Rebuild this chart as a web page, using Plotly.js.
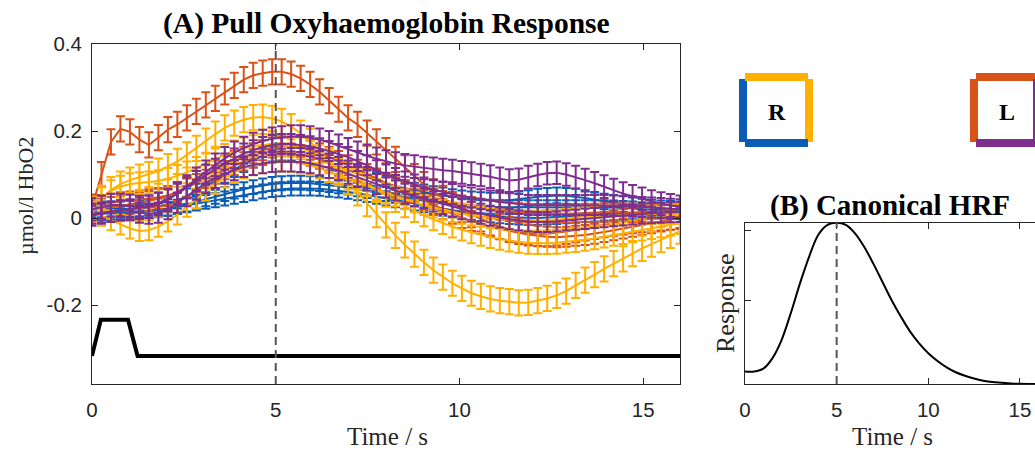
<!DOCTYPE html>
<html><head><meta charset="utf-8">
<script src="https://cdn.plot.ly/plotly-3.0.1.min.js"></script>
<style>html,body{margin:0;padding:0;background:#fff}#chart{width:1035px;height:452px}</style>
</head><body><div id="chart"></div><script>
// ---------- DATA ----------
const TIME = [0,0.258,0.516,0.774,1.032,1.290,1.548,1.806,2.065,2.323,2.581,2.839,3.097,3.355,3.613,3.871,4.129,4.387,4.645,4.903,5.161,5.419,5.677,5.935,6.194,6.452,6.710,6.968,7.226,7.484,7.742,8.000,8.258,8.516,8.774,9.032,9.290,9.548,9.806,10.065,10.323,10.581,10.839,11.097,11.355,11.613,11.871,12.129,12.387,12.645,12.903,13.161,13.419,13.677,13.935,14.194,14.452,14.710,14.968,15.226,15.484,15.742,16.000];

const blue1 = [0.02,0.02,0.02,0.02,0.021,0.022,0.024,0.027,0.031,0.04,0.05,0.061,0.073,0.086,0.099,0.112,0.124,0.134,0.142,0.148,0.15,0.15,0.147,0.142,0.135,0.127,0.119,0.11,0.102,0.094,0.086,0.079,0.073,0.068,0.063,0.059,0.055,0.052,0.048,0.045,0.043,0.041,0.04,0.04,0.041,0.043,0.046,0.049,0.051,0.052,0.051,0.049,0.046,0.042,0.038,0.035,0.032,0.029,0.026,0.024,0.022,0.021,0.02];
const blue2 = [0.01,0.01,0.01,0.01,0.011,0.013,0.015,0.018,0.021,0.026,0.031,0.037,0.043,0.049,0.055,0.061,0.066,0.071,0.075,0.078,0.08,0.081,0.081,0.08,0.078,0.076,0.073,0.07,0.066,0.062,0.058,0.055,0.051,0.047,0.043,0.04,0.037,0.035,0.032,0.03,0.028,0.027,0.026,0.025,0.025,0.025,0.025,0.025,0.025,0.025,0.025,0.025,0.025,0.025,0.025,0.024,0.023,0.022,0.02,0.019,0.018,0.016,0.015];
const blue3 = [0.015,0.014,0.013,0.013,0.014,0.015,0.017,0.019,0.021,0.025,0.029,0.033,0.037,0.041,0.045,0.049,0.053,0.057,0.061,0.064,0.066,0.068,0.068,0.068,0.067,0.065,0.063,0.06,0.057,0.053,0.049,0.045,0.041,0.037,0.033,0.029,0.025,0.021,0.018,0.015,0.012,0.009,0.006,0.004,0.002,0.001,0,0,0.001,0.002,0.004,0.005,0.007,0.008,0.01,0.011,0.012,0.013,0.014,0.015,0.015,0.015,0.015];

const orange1 = [0.025,0.1,0.175,0.205,0.198,0.18,0.168,0.185,0.203,0.215,0.23,0.245,0.26,0.275,0.29,0.305,0.318,0.328,0.333,0.336,0.336,0.331,0.321,0.307,0.29,0.27,0.25,0.23,0.215,0.195,0.175,0.155,0.135,0.115,0.095,0.077,0.06,0.045,0.031,0.019,0.008,-0.002,-0.011,-0.02,-0.026,-0.031,-0.034,-0.036,-0.036,-0.034,-0.031,-0.027,-0.023,-0.019,-0.015,-0.012,-0.009,-0.006,-0.004,-0.002,0,0.002,0.004];
const orange2 = [0.02,0.022,0.025,0.028,0.031,0.035,0.039,0.044,0.05,0.06,0.072,0.085,0.098,0.109,0.12,0.131,0.141,0.149,0.156,0.162,0.165,0.166,0.164,0.157,0.149,0.14,0.131,0.121,0.111,0.101,0.091,0.08,0.07,0.06,0.05,0.04,0.03,0.02,0.01,0,-0.007,-0.014,-0.02,-0.025,-0.03,-0.034,-0.038,-0.041,-0.043,-0.044,-0.043,-0.041,-0.039,-0.036,-0.032,-0.028,-0.024,-0.02,-0.016,-0.012,-0.008,-0.004,0];
const orange3 = [0.03,0.032,0.035,0.038,0.04,0.042,0.045,0.048,0.052,0.06,0.07,0.08,0.09,0.1,0.11,0.12,0.13,0.137,0.143,0.148,0.15,0.15,0.147,0.141,0.134,0.126,0.118,0.11,0.102,0.094,0.087,0.08,0.072,0.065,0.058,0.051,0.046,0.041,0.036,0.031,0.027,0.023,0.02,0.017,0.015,0.013,0.012,0.011,0.01,0.01,0.01,0.011,0.012,0.012,0.013,0.013,0.013,0.012,0.012,0.011,0.011,0.01,0.01];

const yellow1 = [0.02,0.045,0.065,0.078,0.087,0.094,0.1,0.108,0.118,0.13,0.145,0.16,0.177,0.193,0.207,0.218,0.226,0.231,0.232,0.229,0.222,0.21,0.195,0.176,0.155,0.132,0.108,0.083,0.058,0.033,0.008,-0.016,-0.04,-0.062,-0.083,-0.102,-0.12,-0.136,-0.15,-0.162,-0.173,-0.18,-0.186,-0.19,-0.192,-0.195,-0.194,-0.19,-0.185,-0.178,-0.168,-0.155,-0.143,-0.13,-0.117,-0.105,-0.094,-0.082,-0.07,-0.06,-0.05,-0.04,-0.03];
const yellow2 = [0.02,0.045,0.062,0.072,0.078,0.08,0.082,0.085,0.09,0.097,0.105,0.115,0.125,0.135,0.145,0.153,0.16,0.165,0.168,0.169,0.168,0.165,0.16,0.152,0.142,0.13,0.117,0.103,0.09,0.077,0.064,0.051,0.039,0.027,0.016,0.006,-0.003,-0.012,-0.02,-0.027,-0.033,-0.039,-0.044,-0.048,-0.052,-0.055,-0.057,-0.058,-0.058,-0.057,-0.055,-0.053,-0.05,-0.047,-0.043,-0.039,-0.035,-0.031,-0.027,-0.023,-0.019,-0.015,-0.012];
const yellow3 = [0.015,0.005,-0.005,-0.015,-0.024,-0.03,-0.028,-0.02,-0.008,0.008,0.026,0.045,0.063,0.079,0.093,0.105,0.114,0.121,0.126,0.129,0.13,0.129,0.126,0.121,0.114,0.106,0.098,0.089,0.081,0.073,0.065,0.057,0.05,0.043,0.036,0.03,0.024,0.019,0.014,0.01,0.006,0.003,0,-0.002,-0.004,-0.005,-0.006,-0.006,-0.005,-0.004,-0.002,0,0.002,0.004,0.005,0.006,0.007,0.008,0.009,0.01,0.01,0.01,0.01];

const purple1 = [0.02,0.025,0.03,0.03,0.028,0.025,0.026,0.032,0.042,0.056,0.072,0.09,0.106,0.122,0.137,0.15,0.161,0.17,0.177,0.182,0.185,0.187,0.187,0.185,0.18,0.174,0.166,0.158,0.15,0.143,0.136,0.13,0.125,0.121,0.118,0.115,0.113,0.11,0.108,0.105,0.102,0.099,0.095,0.09,0.086,0.088,0.094,0.099,0.103,0.104,0.1,0.094,0.087,0.08,0.072,0.064,0.056,0.05,0.044,0.038,0.033,0.029,0.026];
const purple2 = [0.005,0.01,0.015,0.018,0.018,0.012,0.01,0.012,0.02,0.035,0.05,0.065,0.08,0.092,0.102,0.11,0.117,0.122,0.126,0.129,0.13,0.13,0.129,0.126,0.121,0.115,0.109,0.102,0.094,0.086,0.078,0.07,0.063,0.056,0.05,0.044,0.038,0.032,0.026,0.02,0.015,0.01,0.005,0.001,-0.003,-0.006,-0.008,-0.009,-0.009,-0.008,-0.006,-0.004,-0.002,0,0.002,0.004,0.006,0.008,0.01,0.011,0.012,0.013,0.014];
const purple3 = [0.01,0.012,0.014,0.017,0.02,0.024,0.029,0.035,0.043,0.056,0.07,0.085,0.1,0.113,0.125,0.137,0.148,0.156,0.163,0.168,0.17,0.17,0.168,0.165,0.16,0.154,0.147,0.14,0.131,0.121,0.11,0.1,0.092,0.084,0.077,0.07,0.065,0.06,0.055,0.05,0.047,0.043,0.04,0.037,0.034,0.032,0.03,0.03,0.03,0.03,0.03,0.03,0.03,0.03,0.03,0.029,0.028,0.027,0.025,0.024,0.023,0.021,0.02];

// standard errors (one per channel)
const SERIES_NAMES = ['blue1','blue2','blue3','orange1','orange2','orange3','yellow1','yellow2','yellow3','purple1','purple2','purple3'];
const SERIES_VALUES = [blue1,blue2,blue3,orange1,orange2,orange3,yellow1,yellow2,yellow3,purple1,purple2,purple3];
const SERIES_ERR = [0.018,0.016,0.016,0.029,0.023,0.021,0.029,0.025,0.023,0.026,0.023,0.023];
const SERIES_GROUP = ['blue','blue','blue','orange','orange','orange','yellow','yellow','yellow','purple','purple','purple'];

// stimulus trace
const STIM_T = [0,0.24,0.98,1.24,16];
const STIM_V = [-0.317,-0.234,-0.234,-0.317,-0.317];

// canonical HRF
const HRF_T = [0,0.5,1,1.5,2,2.5,3,3.5,4,4.5,5,5.5,6,6.5,7,7.5,8,8.5,9,9.5,10,10.5,11,11.5,12,12.5,13,13.5,14,14.5,15,15.5,16];
const HRF_V = [0,0,0.004,0.019,0.045,0.083,0.125,0.163,0.194,0.208,0.211,0.208,0.196,0.177,0.153,0.127,0.101,0.078,0.057,0.04,0.026,0.015,0.006,-0.001,-0.006,-0.01,-0.013,-0.015,-0.016,-0.017,-0.0175,-0.0177,-0.0177];

const PEAK_T = 5;
const XTICKS = [0,5,10,15];
const YTICKS_A = [-0.2,0,0.2,0.4];
const YTICK_TEXT_A = ['-0.2','0','0.2','0.4'];
const YTICKS_B = [0.1,0.2];

// ---------- STYLE ----------
const COLORS = {blue:'#0a5cb4', orange:'#d95319', yellow:'#ffb000', purple:'#7e2f8e'};
const W = 1035, H = 452;
const px = x => x / W, py = y => 1 - y / H;
const AX = '#262626';
const serif = 'Liberation Serif, Times New Roman, serif';
const sans = 'Liberation Sans, Arial, sans-serif';

const traces = [];
SERIES_VALUES.forEach((vals, k) => {
  const c = COLORS[SERIES_GROUP[k]];
  traces.push({
    type:'scatter', mode:'lines', name:SERIES_NAMES[k], x:TIME, y:vals, xaxis:'x', yaxis:'y',
    line:{color:c, width:2},
    error_y:{type:'constant', value:SERIES_ERR[k], color:c, thickness:2, width:4.5, visible:true},
    hoverinfo:'skip'
  });
});
traces.push({type:'scatter', mode:'lines', x:STIM_T, y:STIM_V, xaxis:'x', yaxis:'y', line:{color:'#000', width:4}, hoverinfo:'skip'});
traces.push({type:'scatter', mode:'lines', x:HRF_T, y:HRF_V, xaxis:'x2', yaxis:'y2', line:{color:'#000', width:2, shape:'spline', smoothing:1}, hoverinfo:'skip'});

function axisBase(extra){
  return Object.assign({
    showgrid:false, zeroline:false, showline:true, linecolor:AX, linewidth:1,
    ticks:'inside', ticklen:6, tickwidth:1, tickcolor:AX, mirror:'allticks',
    tickfont:{family:sans, size:20.5, color:AX}, fixedrange:true
  }, extra);
}

const rect = (x0,x1,y0,y1,color) => ({type:'rect', xref:'paper', yref:'paper', x0:px(x0), x1:px(x1), y0:py(y1), y1:py(y0), fillcolor:color, line:{width:0}, layer:'above'});

const layout = {
  width:W, height:H, margin:{l:0,r:0,t:0,b:0}, paper_bgcolor:'#fff', plot_bgcolor:'#fff', showlegend:false,
  xaxis: axisBase({domain:[px(92),px(680)], range:[0,16], tickvals:XTICKS, anchor:'y', ticklabelstandoff:7}),
  yaxis: axisBase({domain:[py(384),py(44)], range:[-0.3816,0.4], tickvals:YTICKS_A, ticktext:YTICK_TEXT_A, anchor:'x', ticklabelstandoff:5}),
  xaxis2: axisBase({domain:[px(745),1], range:[0,15.82], tickvals:XTICKS, anchor:'y2', ticklabelstandoff:7}),
  yaxis2: axisBase({domain:[py(384),py(222.7)], range:[-0.0177,0.211], tickvals:YTICKS_B, showticklabels:false, anchor:'x2', mirror:false}),
  shapes:[
    {type:'line', xref:'x', yref:'y domain', x0:PEAK_T, x1:PEAK_T, y0:0, y1:1, line:{color:'#555', width:2, dash:'8px,5px'}, layer:'above'},
    {type:'line', xref:'x2', yref:'y2 domain', x0:PEAK_T, x1:PEAK_T, y0:0, y1:1, line:{color:'#555', width:2, dash:'8px,5px'}, layer:'above'},
    // R box
    rect(739,747,79,142,COLORS.blue), rect(745,808,73,81,COLORS.yellow), rect(805,813,79,142,COLORS.yellow), rect(745,808,139,147,COLORS.blue),
    // L box
    rect(970,978,79,142,COLORS.orange), rect(976,1039,73,81,COLORS.orange), rect(1033,1041,79,142,COLORS.purple), rect(976,1039,139,147,COLORS.purple)
  ],
  annotations:[
    {text:'<b>(A) Pull Oxyhaemoglobin Response</b>', xref:'paper', yref:'paper', x:px(386), y:py(24), xanchor:'center', yanchor:'middle', showarrow:false, font:{family:serif, size:29.5, color:'#000'}},
    {text:'<b>(B) Canonical HRF</b>', xref:'paper', yref:'paper', x:px(890), y:py(205), xanchor:'center', yanchor:'middle', showarrow:false, font:{family:serif, size:29, color:'#000'}},
    {text:'Time / s', xref:'paper', yref:'paper', x:px(387), y:0, xanchor:'center', yanchor:'bottom', showarrow:false, font:{family:serif, size:25, color:AX}},
    {text:'Time / s', xref:'paper', yref:'paper', x:px(892), y:0, xanchor:'center', yanchor:'bottom', showarrow:false, font:{family:serif, size:25, color:AX}},
    {text:'µmol/l HbO2', xref:'paper', yref:'paper', x:px(25), y:py(196), xanchor:'center', yanchor:'middle', textangle:-90, showarrow:false, font:{family:serif, size:22, color:AX}},
    {text:'Response', xref:'paper', yref:'paper', x:px(725), y:py(303), xanchor:'center', yanchor:'middle', textangle:-90, showarrow:false, font:{family:serif, size:26, color:AX}},
    {text:'<b>R</b>', xref:'paper', yref:'paper', x:px(777), y:py(112), xanchor:'center', yanchor:'middle', showarrow:false, font:{family:serif, size:24, color:'#000'}},
    {text:'<b>L</b>', xref:'paper', yref:'paper', x:px(1007), y:py(112), xanchor:'center', yanchor:'middle', showarrow:false, font:{family:serif, size:24, color:'#000'}}
  ]
};

Plotly.newPlot('chart', traces, layout, {staticPlot:true, displayModeBar:false});
</script></body></html>
